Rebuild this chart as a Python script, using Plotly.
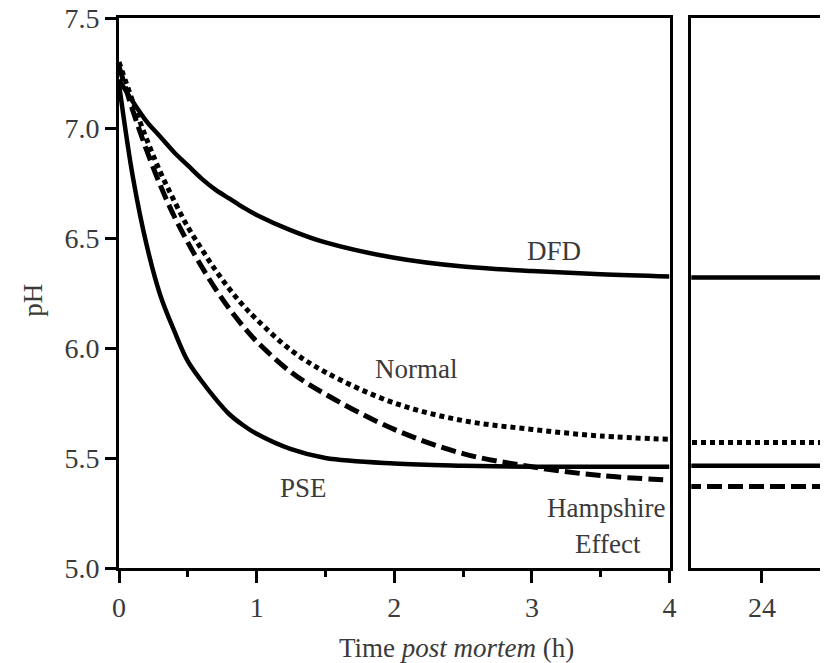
import plotly.graph_objects as go

# ---- data ----
t_hours = [0, 0.1, 0.2, 0.3, 0.4, 0.5, 0.6, 0.7, 0.8, 0.9, 1, 1.25, 1.5, 2, 2.5, 3, 3.5, 4]
ph_dfd = [7.22, 7.12, 7.03, 6.96, 6.89, 6.83, 6.77, 6.72, 6.68, 6.64, 6.605, 6.535, 6.48, 6.41, 6.37, 6.35, 6.335, 6.325]
ph_normal = [7.30, 7.12, 6.95, 6.80, 6.67, 6.55, 6.45, 6.355, 6.27, 6.195, 6.13, 5.99, 5.89, 5.75, 5.67, 5.63, 5.60, 5.585]
ph_hampshire = [7.28, 7.08, 6.90, 6.74, 6.60, 6.48, 6.37, 6.27, 6.18, 6.10, 6.03, 5.89, 5.79, 5.63, 5.52, 5.46, 5.42, 5.40]
ph_pse = [7.20, 6.78, 6.47, 6.24, 6.08, 5.94, 5.85, 5.77, 5.70, 5.65, 5.61, 5.54, 5.50, 5.475, 5.465, 5.46, 5.46, 5.46]

t_late = [23.3, 24.6]
ph_late_dfd = [6.32, 6.32]
ph_late_normal = [5.57, 5.57]
ph_late_pse = [5.465, 5.465]
ph_late_hampshire = [5.37, 5.37]

x_ticks_left = [0, 1, 2, 3, 4]
x_ticks_right = [24]
y_ticks = [5.0, 5.5, 6.0, 6.5, 7.0, 7.5]

FONT = "Liberation Serif, Times New Roman, Times, serif"
TXT = "#3a3a3a"

styles = {
    "DFD": dict(color="black", width=4.5, dash="solid"),
    "Normal": dict(color="black", width=5, dash="5px,4px"),
    "Hampshire": dict(color="black", width=5, dash="15px,6px"),
    "PSE": dict(color="black", width=4.5, dash="solid"),
}

fig = go.Figure()
left = [("DFD", ph_dfd), ("Normal", ph_normal), ("Hampshire", ph_hampshire), ("PSE", ph_pse)]
right = [("DFD", ph_late_dfd), ("Normal", ph_late_normal), ("Hampshire", ph_late_hampshire), ("PSE", ph_late_pse)]
for name, ys in left:
    fig.add_trace(go.Scatter(x=t_hours, y=ys, mode="lines", line=dict(shape="spline", smoothing=1.0, **styles[name]),
                             xaxis="x", yaxis="y", showlegend=False, hoverinfo="skip"))
for name, ys in right:
    fig.add_trace(go.Scatter(x=t_late, y=ys, mode="lines", line=styles[name],
                             xaxis="x2", yaxis="y2", showlegend=False, hoverinfo="skip"))

W, H = 827, 663
ml, mr, mt, mb = 119, 0, 18, 95
pw = W - ml - mr
ph = H - mt - mb
x1_end = (675 - ml) / pw
x2_start = (697 - ml) / pw

axis_common = dict(showgrid=False, zeroline=False, showline=True, linecolor="black", linewidth=3,
                   ticks="outside", tickcolor="black", tickwidth=2.5,
                   tickfont=dict(family=FONT, size=28, color=TXT))

fig.update_layout(
    width=W, height=H, autosize=False,
    margin=dict(l=ml, r=mr, t=mt, b=mb, pad=0),
    paper_bgcolor="white", plot_bgcolor="white",
    xaxis=dict(domain=[0, x1_end], range=[0, 4], tickvals=x_ticks_left, ticklen=12, mirror=True,
               minor=dict(dtick=0.5, ticks="outside", ticklen=6, tickwidth=2.5, tickcolor="black"),
               anchor="y", **axis_common),
    yaxis=dict(domain=[0, 1], range=[5.0, 7.5], tickvals=y_ticks, tickformat=".1f", ticklen=11, mirror=True,
               anchor="x", **axis_common),
    xaxis2=dict(domain=[x2_start, 1], range=[23.49, 24.42], tickvals=x_ticks_right, ticklen=12, mirror=True,
                anchor="y2", **axis_common),
    yaxis2=dict(domain=[0, 1], range=[5.0, 7.5], tickvals=[], showticklabels=False, ticks="",
                showgrid=False, zeroline=False, showline=True, linecolor="black", linewidth=3,
                anchor="x2"),
)

ann_font = dict(family=FONT, size=27, color=TXT)
labels = [("DFD", 3.16, 6.44), ("Normal", 2.16, 5.905), ("PSE", 1.34, 5.365),
          ("Hampshire", 3.54, 5.275), ("Effect", 3.55, 5.11)]
for text, x, y in labels:
    fig.add_annotation(x=x, y=y, xref="x", yref="y", text=text, showarrow=False, font=ann_font,
                       xanchor="center", yanchor="middle")

fig.add_annotation(x=(460 - ml) / pw, y=(568 - 648) / ph, xref="paper", yref="paper",
                   text="Time <i>post mortem</i> (h)", showarrow=False, font=ann_font,
                   xanchor="center", yanchor="middle")
fig.add_annotation(x=(32 - ml) / pw, y=(568 - 300) / ph, xref="paper", yref="paper",
                   text="pH", textangle=-90, showarrow=False, font=ann_font,
                   xanchor="center", yanchor="middle")

fig.write_html("out.html", config={"responsive": False},
               post_script="document.body.style.margin='0';document.body.style.overflow='hidden';")
